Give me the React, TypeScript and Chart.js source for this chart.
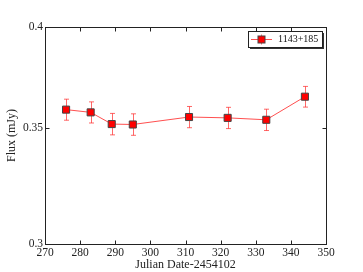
import React, { useEffect, useRef } from "react";
import { Chart, registerables } from "chart.js";

Chart.register(...registerables);

const julianDates = [276, 283, 289, 295, 311, 322, 333, 344];
const fluxValues = [0.3585, 0.3572, 0.3517, 0.3515, 0.355, 0.3546, 0.3537, 0.3647];
const fluxErrors = [0.005, 0.005, 0.005, 0.005, 0.005, 0.005, 0.005, 0.005];
const xTickValues = [270, 280, 290, 300, 310, 320, 330, 340, 350];
const yTickValues = [0.3, 0.35, 0.4];
const yTickLabels = ["0.3", "0.35", "0.4"];
const seriesLabel = "1143+185";

const FONT = "'Liberation Serif', 'DejaVu Serif', serif";
const RED = "rgba(255,0,0,1)";
const LINE_RED = "rgba(255,60,60,0.9)";
const ERR_RED = "rgba(255,40,40,0.7)";

const extrasPlugin = {
  id: "extras",
  beforeDatasetsDraw(chart: any) {
    const ctx = chart.ctx;
    const xs = chart.scales.x;
    const ys = chart.scales.y;
    ctx.save();
    ctx.strokeStyle = ERR_RED;
    ctx.lineWidth = 1;
    julianDates.forEach((d, i) => {
      const px = Math.round(xs.getPixelForValue(d)) + 0.5;
      const top = ys.getPixelForValue(fluxValues[i] + fluxErrors[i]);
      const bot = ys.getPixelForValue(fluxValues[i] - fluxErrors[i]);
      ctx.beginPath();
      ctx.moveTo(px, top);
      ctx.lineTo(px, bot);
      ctx.moveTo(px - 2.5, top);
      ctx.lineTo(px + 2.5, top);
      ctx.moveTo(px - 2.5, bot);
      ctx.lineTo(px + 2.5, bot);
      ctx.stroke();
    });
    ctx.restore();
  },
  afterDraw(chart: any) {
    const ctx = chart.ctx;
    const a = chart.chartArea;
    const xs = chart.scales.x;
    const ys = chart.scales.y;
    ctx.save();
    ctx.strokeStyle = "#222";
    ctx.lineWidth = 1;
    const L = Math.round(a.left) + 0.5;
    const R = Math.round(a.right) + 0.5;
    const T = Math.round(a.top) + 0.5;
    const B = Math.round(a.bottom) + 0.5;
    ctx.strokeRect(L, T, R - L, B - T);
    ctx.beginPath();
    xTickValues.forEach((v) => {
      const px = Math.round(xs.getPixelForValue(v)) + 0.5;
      ctx.moveTo(px, B);
      ctx.lineTo(px, B - 4);
      ctx.moveTo(px, T);
      ctx.lineTo(px, T + 4);
    });
    yTickValues.forEach((v) => {
      const py = Math.round(ys.getPixelForValue(v)) + 0.5;
      ctx.moveTo(L, py);
      ctx.lineTo(L + 4, py);
      ctx.moveTo(R, py);
      ctx.lineTo(R - 4, py);
    });
    ctx.stroke();

    // legend
    const bx = 248, by = 31, bw = 74, bh = 16;
    ctx.fillStyle = "#333";
    ctx.fillRect(bx + 2, by + 2, bw, bh);
    ctx.fillStyle = "#fff";
    ctx.fillRect(bx, by, bw, bh);
    ctx.strokeStyle = "#222";
    ctx.strokeRect(bx + 0.5, by + 0.5, bw, bh);
    const cy = by + bh / 2 + 0.5;
    ctx.strokeStyle = LINE_RED;
    ctx.beginPath();
    ctx.moveTo(bx + 3, cy);
    ctx.lineTo(bx + 24, cy);
    ctx.stroke();
    ctx.strokeStyle = ERR_RED;
    ctx.beginPath();
    ctx.moveTo(bx + 13.5, cy - 5);
    ctx.lineTo(bx + 13.5, cy + 5);
    ctx.stroke();
    ctx.fillStyle = RED;
    ctx.fillRect(bx + 10, cy - 3.5, 7, 7);
    ctx.strokeStyle = "#444";
    ctx.strokeRect(bx + 10, cy - 3.5, 7, 7);
    ctx.fillStyle = "#111";
    ctx.font = `10px ${FONT}`;
    ctx.textBaseline = "middle";
    ctx.textAlign = "left";
    ctx.fillText(seriesLabel, bx + 30, cy);
    ctx.restore();
  },
};

export default function App() {
  const ref = useRef<HTMLCanvasElement>(null);
  useEffect(() => {
    document.body.style.margin = "0";
    const chart = new Chart(ref.current!, {
      type: "line",
      data: {
        datasets: [
          {
            label: seriesLabel,
            data: julianDates.map((d, i) => ({ x: d, y: fluxValues[i] })),
            borderColor: LINE_RED,
            borderWidth: 1,
            backgroundColor: RED,
            pointStyle: "rect",
            pointRadius: 5,
            pointBorderColor: "#444",
            pointBorderWidth: 1,
            tension: 0,
          },
        ],
      },
      options: {
        animation: false,
        responsive: false,
        layout: { padding: { top: 27, right: 37, left: 5, bottom: 0 } },
        plugins: { legend: { display: false }, tooltip: { enabled: false } },
        scales: {
          x: {
            type: "linear",
            min: 270,
            max: 350,
            afterBuildTicks: (s: any) => {
              s.ticks = xTickValues.map((v) => ({ value: v }));
            },
            afterFit: (s: any) => {
              s.height = 28;
            },
            grid: { display: false, drawTicks: false },
            border: { display: false },
            ticks: {
              color: "#222",
              padding: 2,
              maxRotation: 0,
              font: { family: FONT, size: 11.5 },
            },
            title: {
              display: true,
              text: "Julian Date-2454102",
              color: "#222",
              padding: { top: 0, bottom: 0 },
              font: { family: FONT, size: 12 },
            },
          },
          y: {
            type: "logarithmic",
            min: 0.3,
            max: 0.4,
            afterBuildTicks: (s: any) => {
              s.ticks = yTickValues.map((v) => ({ value: v }));
            },
            afterFit: (s: any) => {
              s.width = 40;
            },
            grid: { display: false, drawTicks: false },
            border: { display: false },
            ticks: {
              color: "#222",
              padding: 2,
              font: { family: FONT, size: 11.5 },
              callback: (v: any) => {
                const i = yTickValues.findIndex((t) => Math.abs(t - Number(v)) < 1e-9);
                return i >= 0 ? yTickLabels[i] : "";
              },
            },
            title: {
              display: true,
              text: "Flux (mJy)",
              color: "#222",
              padding: { top: 0, bottom: 0 },
              font: { family: FONT, size: 12 },
            },
          },
        },
      },
      plugins: [extrasPlugin],
    } as any);
    return () => chart.destroy();
  }, []);
  return (
    <div style={{ position: "absolute", left: 0, top: 0, width: 363, height: 272 }}>
      <canvas ref={ref} width={363} height={272} style={{ width: 363, height: 272 }} />
    </div>
  );
}
